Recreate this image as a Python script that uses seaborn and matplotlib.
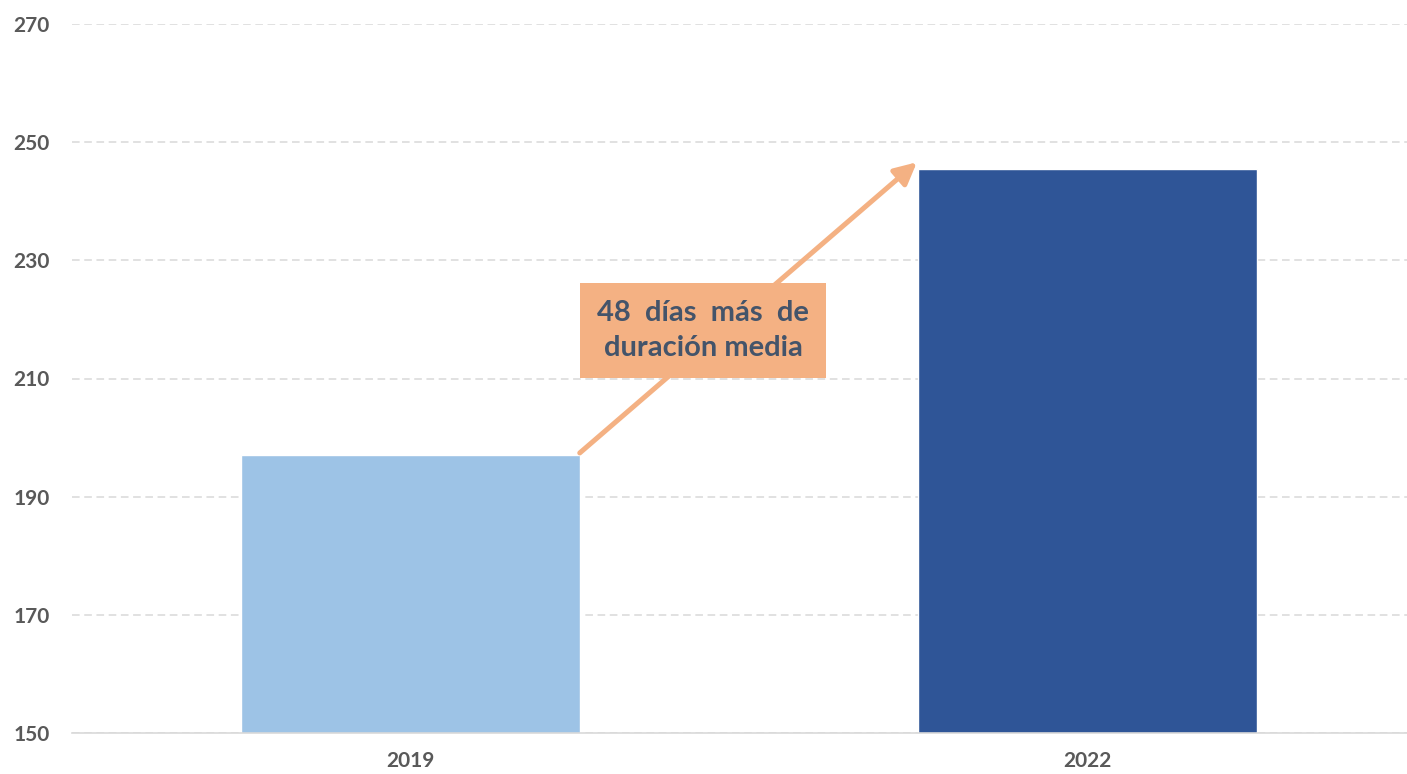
import matplotlib
matplotlib.use("Agg")
import matplotlib.pyplot as plt
import seaborn as sns
import pandas as pd

# data
years = ["2019", "2022"]
duracion = [197.1, 245.5]
bar_colors = ["#9DC3E6", "#2F5597"]
yticks = [150, 170, 190, 210, 230, 250, 270]
note = "48  días  más  de\nduración media"

df = pd.DataFrame({"year": years, "dias": duracion})

sns.set_theme(style="white")
plt.rcParams["font.family"] = ["Lato", "DejaVu Sans"]

fig = plt.figure(figsize=(14.07, 7.74), dpi=100)
ax = fig.add_axes([72 / 1407, 41 / 774, 1354 / 1407, 709 / 774])

sns.barplot(data=df, x="year", y="dias", hue="year", palette=bar_colors,
            width=0.5, legend=False, ax=ax, saturation=1, zorder=3)

ax.set_ylim(150, 270)
ax.set_xlim(-0.5, 1.5)
ax.set_yticks(yticks)
ax.yaxis.grid(True, color="#D9D9D9", linestyle=(0, (5, 3)), linewidth=1.1, zorder=0)
ax.xaxis.grid(False)
for s in ["top", "right", "left"]:
    ax.spines[s].set_visible(False)
ax.spines["bottom"].set_color("#D9D9D9")
ax.spines["bottom"].set_linewidth(1.2)
ax.spines["bottom"].set_zorder(4)

ax.tick_params(axis="y", length=0, pad=16, labelsize=15, labelcolor="#595959")
ax.tick_params(axis="x", length=0, pad=13, labelsize=15, labelcolor="#595959")
for lab in ax.get_xticklabels() + ax.get_yticklabels():
    lab.set_fontweight("bold")
ax.set_xlabel("")
ax.set_ylabel("")

# arrow from the 2019 bar to the 2022 bar
ax.annotate("", xy=(0.748, 246.6), xytext=(0.25, 197.4),
            arrowprops=dict(arrowstyle="-|>,head_length=1.1,head_width=0.55",
                            color="#F4B183", lw=3.6, shrinkA=0, shrinkB=0),
            zorder=5)

ax.text(0.432, 218.1, note, ha="center", va="center", fontsize=21,
        fontweight="bold", color="#44546A", linespacing=1.4, zorder=6,
        bbox=dict(boxstyle="square,pad=0.6", fc="#F4B183", ec="none"))

fig.savefig("out.png", dpi=100)
